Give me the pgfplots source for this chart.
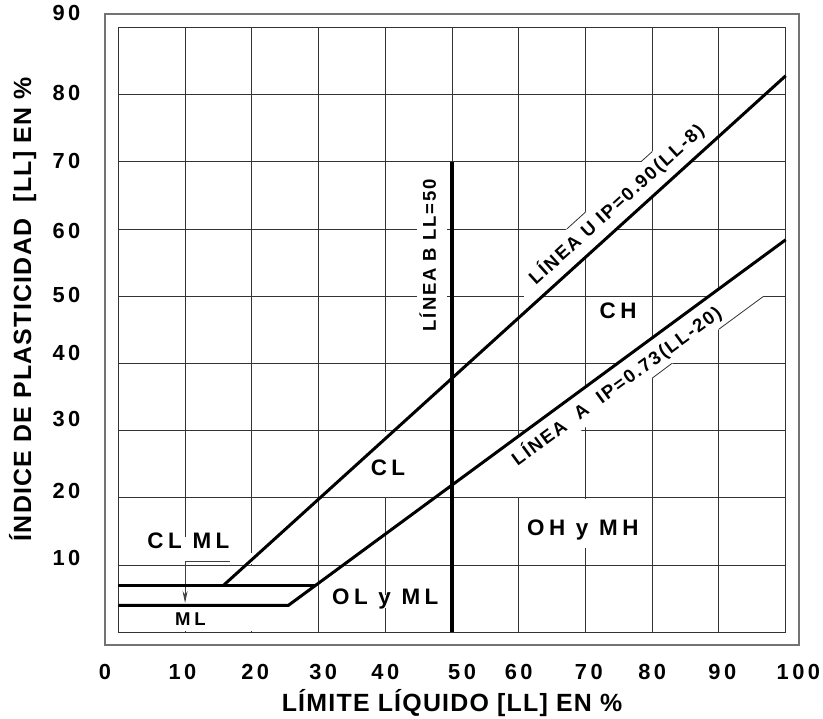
\documentclass[border=0pt]{standalone}
\usepackage{fontspec}
\setmainfont{Liberation Sans}
\newfontfamily\tickfam{Liberation Sans}[LetterSpace=16]
\newfontfamily\labfam{Liberation Sans}[LetterSpace=5]
\newfontfamily\regfam{Liberation Sans}[LetterSpace=20]
\newfontfamily\linefam{Liberation Sans}[LetterSpace=10]
\newcommand\tickfont{\tickfam\bfseries\fontsize{21.9}{26}\selectfont}
\newcommand\labfont{\labfam\bfseries\fontsize{25}{30}\selectfont}
\newcommand\regfont{\regfam\bfseries\fontsize{22.5}{27}\selectfont}
\newcommand\smallfont{\regfam\bfseries\fontsize{18.6}{22}\selectfont}
\newcommand\linefont{\linefam\bfseries\fontsize{18.6}{22}\selectfont}
\usepackage{pgfplots}
\pgfplotsset{compat=1.18}
\usetikzlibrary{arrows.meta}
\begin{document}
\begin{tikzpicture}
\begin{axis}[
  name=ax, scale only axis, width=694bp, height=631bp,
  xmin=-2, xmax=102, ymin=-1.9, ymax=92,
  axis line style={draw=black!55, line width=1.2bp},
  tick style={draw=none}, major tick length=0pt,
  xtick={-2,9.6,20.5,30.7,40,51.5,60,70.5,80,90.5,101.9},
  xticklabels={0,10,20,30,40,50,60,70,80,90,100},
  ytick={10.4,20.5,31.2,40.9,49.6,59.1,69.6,79.7,91.6},
  yticklabels={10,20,30,40,50,60,70,80,90},
  xticklabel style={font=\tickfont, anchor=center, yshift=-30.7bp, inner sep=0pt, text height=0.72em, text depth=0pt},
  yticklabel style={font=\tickfont, anchor=center, xshift=-38.5bp, inner sep=0pt, text height=0.72em, text depth=0pt},
  xlabel={LÍMITE LÍQUIDO [LL] EN \%},
  ylabel={ÍNDICE DE PLASTICIDAD\ \ [LL] EN \%},
  every axis x label/.style={at={(axis description cs:0.5,-0.099)}, anchor=center, font=\labfont, inner sep=0pt, text height=0.72em, text depth=0pt},
  every axis y label/.style={at={(axis description cs:-0.1117,0.532)}, rotate=90, anchor=center, font=\labfont, inner sep=0pt, text height=0.72em, text depth=0pt},
  clip=false,
  /pgf/number format/assume math mode=true,
  gridl/.style={black!80, line width=0.9bp, forget plot},
  thin/.style={black!80, line width=0.8bp, forget plot},
]
% grid of the inner chart
\pgfplotsinvokeforeach{0,10,...,100}{\addplot[gridl] coordinates {(#1,0) (#1,90)};}
\pgfplotsinvokeforeach{0,10,...,90}{\addplot[gridl] coordinates {(0,#1) (100,#1)};}
% white areas that break the grid
\fill[white] (axis cs:0.25,0.25) rectangle (axis cs:29.75,9.8);
\fill[white] (axis cs:4,10.2) rectangle (axis cs:17.5,14.2);
\fill[white] (axis cs:19,10.2) rectangle (axis cs:21,11.8);
\fill[white] (axis cs:39.5,20.15) rectangle (axis cs:40.5,29.85);
\fill[white] (axis cs:69.5,12.6) rectangle (axis cs:70.5,19.85);
\fill[white] (axis cs:59.5,20.15) rectangle (axis cs:60.5,23.5);
\fill[white] (axis cs:44.7,43.5) rectangle (axis cs:49.2,68.5);
\fill[white] (axis cs:60.8,47.52) -- (axis cs:89.2,73.08) -- (axis cs:89.2,79.8) -- (axis cs:60.8,54.24) -- cycle;
\fill[white] (axis cs:58,27.74) -- (axis cs:96.7,55.99) -- (axis cs:96.7,49.99) -- (axis cs:58,21.74) -- cycle;
% tab edges
\addplot[thin] coordinates {(67.2,60) (70,62.52)};
\addplot[thin] coordinates {(78.3,70) (80,71.52)};
\addplot[thin] coordinates {(80,37.8) (82.95,40)};
\addplot[thin] coordinates {(90,45.1) (96.7,50)};
% region labels
\node[font=\regfont, fill=white, inner sep=2pt, text height=0.72em, text depth=0pt] at (axis cs:40.4,23.8) {CL};
\node[font=\regfont, inner sep=0pt, text height=0.72em, text depth=0pt] at (axis cs:74.9,47.2) {CH};
\node[font=\regfont, fill=white, inner sep=3pt, text height=0.72em, text depth=0pt] at (axis cs:40,4.6) {OL y ML};
\node[font=\regfont, fill=white, inner sep=3pt, text height=0.72em, text depth=0pt] at (axis cs:69.6,15.0) {OH y MH};
\node[font=\regfont, inner sep=0pt, text height=0.72em, text depth=0pt] at (axis cs:10.5,13.0) {CL ML};
\node[font=\smallfont, inner sep=0pt, text height=0.72em, text depth=0pt] at (axis cs:10.8,1.6) {ML};
\node[font=\linefont, rotate=90, inner sep=0pt, text height=0.72em, text depth=0pt] at (axis cs:47.06,56.1) {LÍNEA B LL=50};
\node[font=\linefont, rotate=42.2, inner sep=0pt, text height=0.72em, text depth=0pt] at (axis cs:74.9,63.4) {LÍNEA U IP=0.90(LL-8)};
\node[font=\linefont, rotate=36.3, inner sep=0pt, text height=0.72em, text depth=0pt] at (axis cs:74.9,36.3) {LÍNEA\ \ A\ \ IP=0.73(LL-20)};
% leader with arrow
\addplot[black!75, line width=0.8bp, -{Stealth[length=12bp,width=5bp]}] coordinates {(16.7,10.5) (10,10.5) (10,4.35)};
% the chart lines
\addplot[black, line width=3bp] coordinates {(0,4) (25.48,4) (100,58.4)};
\addplot[black, line width=3bp] coordinates {(0,7) (29.6,7)};
\addplot[black, line width=3bp] coordinates {(15.78,7) (100,82.8)};
\addplot[black, line width=4bp] coordinates {(50,0) (50,70)};
\end{axis}
\pgfresetboundingbox
\path[use as bounding box] ([xshift=-105bp,yshift=-74bp]ax.south west) rectangle ([xshift=24bp,yshift=14bp]ax.north east);
\end{tikzpicture}
\end{document}
